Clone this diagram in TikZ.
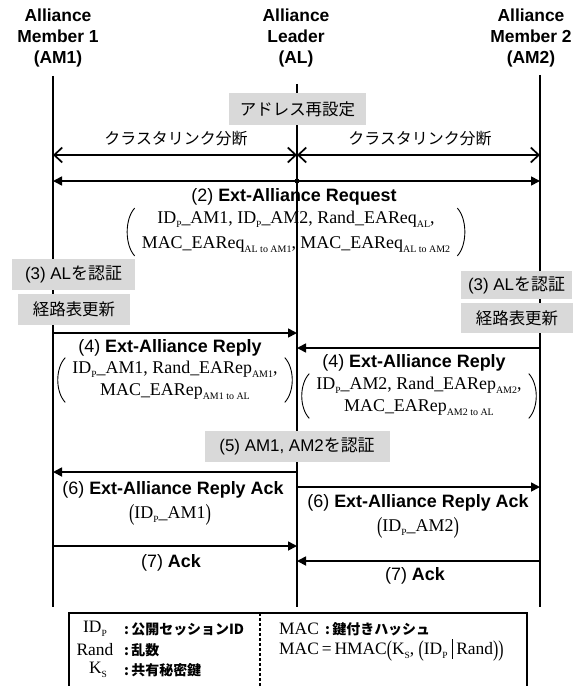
\documentclass[tikz,border=0pt]{standalone}
\usepackage{graphicx}
\usepackage{fontspec}
\setmainfont{Liberation Sans}
\newfontfamily\jp{Noto Sans CJK JP}
\newfontfamily\tm{Liberation Serif}
\usetikzlibrary{arrows.meta}
\definecolor{boxgray}{HTML}{D9D9D9}
\newcommand\subx[1]{\raisebox{-0.22em}{\fontsize{10}{10}\selectfont #1}}
\newcommand\subp[1]{\raisebox{-0.22em}{\fontsize{9.5}{9.5}\selectfont #1}}
\newcommand\lpar{\raisebox{-0.1em}{\scalebox{0.9}[1.3]{(}}}
\newcommand\rpar{\raisebox{-0.1em}{\scalebox{0.9}[1.3]{)}}}
\newcommand\vbar{\raisebox{-0.28em}{\rule{0.8bp}{1.15em}}}
\newcommand\parens[1]{%
  \draw[paren] ([shift={(-7,-3)}]#1.north west) .. controls ([shift={(-17,8)}]#1.north west)
     and ([shift={(-17,-8)}]#1.south west) .. ([shift={(-7,3)}]#1.south west);
  \draw[paren] ([shift={(7,-3)}]#1.north east) .. controls ([shift={(17,8)}]#1.north east)
     and ([shift={(17,-8)}]#1.south east) .. ([shift={(7,3)}]#1.south east);}
\begin{document}
\begin{tikzpicture}[x=1bp,y=-1bp,
  hdr/.style={font=\bfseries\fontsize{17.5}{21.5}\selectfont, align=center, inner sep=0},
  lbl/.style={font=\fontsize{18}{21}\selectfont, inner sep=0, align=center},
  jlbl/.style={font=\jp\fontsize{16}{18}\selectfont, inner sep=0},
  gbox/.style={fill=boxgray, inner sep=0, minimum height=31bp, font=\fontsize{17}{20}\selectfont},
  prm/.style={font=\tm\fontsize{18}{22}\selectfont, inner sep=0, align=center},
  paren/.style={line width=0.9bp},
  life/.style={line width=1.3bp},
  msg/.style={line width=1.7bp, -{Triangle[length=9bp,width=9bp]}},
  bimsg/.style={line width=1.7bp, {Triangle[length=9bp,width=9bp]}-{Triangle[length=9bp,width=9bp]}},
  cut/.style={line width=1.7bp, {Straight Barb[length=8bp,width=15bp]}-{Straight Barb[length=8bp,width=15bp]}},
  lgd/.style={line width=1.3bp},
  lgdm/.style={font=\tm\fontsize{17.5}{20}\selectfont, inner sep=0},
  lgdj/.style={font=\jp\bfseries\fontsize{14}{16}\selectfont, inner sep=0}
]
\useasboundingbox (0,0) rectangle (584,686);

% headers
\node[hdr] (am1) at (58,38) {Alliance\\Member 1\\(AM1)};
\node[hdr] (al)  at (296,38) {Alliance\\Leader\\(AL)};
\node[hdr] (am2) at (531,38) {Alliance\\Member 2\\(AM2)};

% lifelines
\coordinate (L1t) at (53,76);  \coordinate (L1b) at (53,607);
\coordinate (L2t) at (297,84); \coordinate (L2b) at (297,607);
\coordinate (L3t) at (540,75); \coordinate (L3b) at (540,607);
\draw[life] (L1t) -- (L1b);
\draw[life] (L2t) -- (L2b);
\draw[life] (L3t) -- (L3b);

% arrow end points
\coordinate (a1l) at (53,155);  \coordinate (a1m) at (297,155); \coordinate (a1r) at (540,155);
\coordinate (a2l) at (53,181);  \coordinate (a2r) at (540,181);
\coordinate (a3l) at (53,333);  \coordinate (a3m) at (297,333);
\coordinate (a4m) at (297,348); \coordinate (a4r) at (540,348);
\coordinate (a5l) at (53,472);  \coordinate (a5m) at (297,472);
\coordinate (a6m) at (297,487); \coordinate (a6r) at (540,487);
\coordinate (a7l) at (53,546);  \coordinate (a7m) at (297,546);
\coordinate (a8m) at (297,561); \coordinate (a8r) at (540,561);

\draw[cut] (a1l) -- (a1m);
\draw[cut] (a1m) -- (a1r);
\draw[bimsg] (a2l) -- (a2r);
\node[circle, fill, inner sep=0, minimum size=5bp] (dot) at (297,181) {};
\draw[msg] (a3l) -- (a3m);
\draw[msg] (a4r) -- (a4m);
\draw[msg] (a5m) -- (a5l);
\draw[msg] (a6m) -- (a6r);
\draw[msg] (a7l) -- (a7m);
\draw[msg] (a8r) -- (a8m);

% grey boxes
\node[gbox, minimum width=137bp, font=\jp\fontsize{16.5}{20}\selectfont] (readdr) at (297.5,109) {アドレス再設定};
\node[gbox, minimum width=123bp] (auth1) at (73.5,274) {(3) AL{\jp を認証}};
\node[gbox, minimum width=112bp, font=\jp\fontsize{16.5}{20}\selectfont] (upd1) at (74,309) {経路表更新};
\node[gbox, minimum width=111bp, minimum height=28bp] (auth2) at (516.5,285) {(3) AL{\jp を認証}};
\node[gbox, minimum width=112bp, minimum height=30bp, font=\jp\fontsize{16.5}{20}\selectfont] (upd2) at (517,318) {経路表更新};
\node[gbox, minimum width=185bp] (auth5) at (297,446) {(5) AM1, AM2{\jp を認証}};

% labels
\node[jlbl] (cut1) at (176,139) {クラスタリンク分断};
\node[jlbl] (cut2) at (420,139) {クラスタリンク分断};

\node[lbl] (req) at (294,197) {(2) \textbf{Ext-Alliance Request}};
\node[prm] (reqp) at (296,232) {ID\subp{P}\_AM1, ID\subp{P}\_AM2, Rand\_EAReq\subx{AL},\\[3bp]
 MAC\_EAReq\subx{AL to AM1}, MAC\_EAReq\subx{AL to AM2}};
\parens{reqp}

\node[lbl] (rep1) at (170,348) {(4) \textbf{Ext-Alliance Reply}};
\node[prm] (rep1p) at (175,380) {ID\subp{P}\_AM1, Rand\_EARep\subx{AM1},\\
 MAC\_EARep\subx{AM1 to AL}};
\parens{rep1p}

\node[lbl] (rep2) at (414,363) {(4) \textbf{Ext-Alliance Reply}};
\node[prm] (rep2p) at (419,396) {ID\subp{P}\_AM2, Rand\_EARep\subx{AM2},\\
 MAC\_EARep\subx{AM2 to AL}};
\parens{rep2p}

\node[lbl] (ack6l) at (173,490) {(6) \textbf{Ext-Alliance Reply Ack}};
\node[prm] (ack6lp) at (170,515) {\lpar ID\subp{P}\_AM1\rpar};
\node[lbl] (ack6r) at (418,503) {(6) \textbf{Ext-Alliance Reply Ack}};
\node[prm] (ack6rp) at (418,528) {\lpar ID\subp{P}\_AM2\rpar};

\node[lbl] (ack7l) at (171,563) {(7) \textbf{Ack}};
\node[lbl] (ack7r) at (415,576) {(7) \textbf{Ack}};

% legend
\coordinate (g1) at (69,690); \coordinate (g2) at (69,613);
\coordinate (g3) at (527,613); \coordinate (g4) at (527,690);
\coordinate (gd1) at (260,613); \coordinate (gd2) at (260,690);
\draw[lgd] (g1) -- (g2) -- (g3) -- (g4);
\draw[lgd, dash pattern=on 3bp off 2bp] (gd1) -- (gd2);

\node[lgdm] (kid) at (95,629) {ID\subp{P}};
\node[lgdm] (krand) at (95,650) {Rand};
\node[lgdm] (kks) at (98,670) {K\subp{S}};
\node[lgdj, anchor=west] (vid) at (124,629) {:\,公開セッションID};
\node[lgdj, anchor=west] (vrand) at (124,650) {:\,乱数};
\node[lgdj, anchor=west] (vks) at (124,670) {:\,共有秘密鍵};
\node[lgdm, anchor=west] (kmac) at (279,629) {MAC};
\node[lgdj, anchor=west] (vmac) at (325,629) {:\,鍵付きハッシュ};
\node[lgdm, anchor=west] (fmac) at (279,650) {MAC\,=\,HMAC\lpar K\subp{S}, \lpar ID\subp{P}\hspace{4bp}\vbar\hspace{4bp}Rand\rpar\rpar};
\end{tikzpicture}
\end{document}
